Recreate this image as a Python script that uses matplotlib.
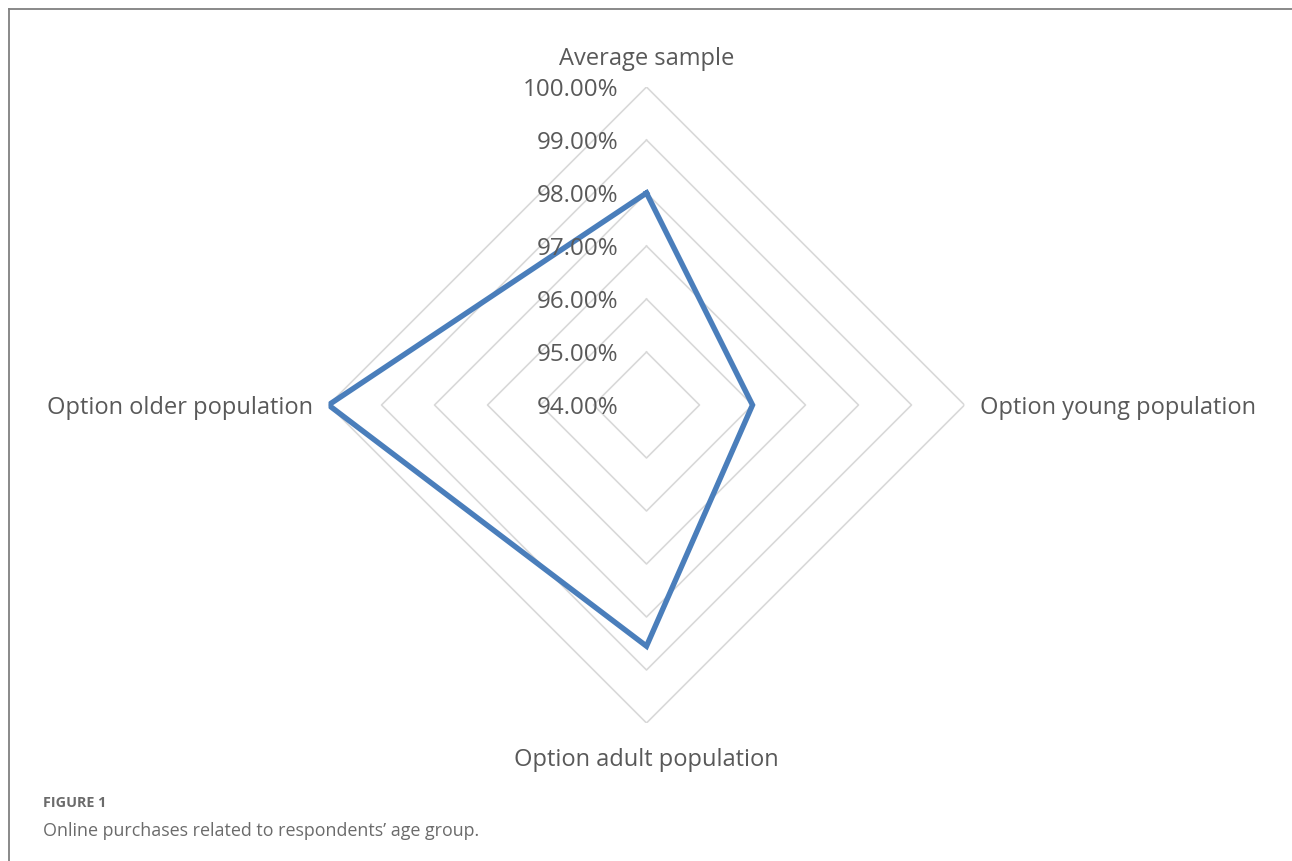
import numpy as np
import matplotlib
matplotlib.use('Agg')
import matplotlib.pyplot as plt
from matplotlib.lines import Line2D

# categories clockwise from the top
categories = ['Average sample', 'Option young population',
              'Option adult population', 'Option older population']
share = [98.0, 96.0, 98.55, 100.0]          # % of respondents buying online
ring_levels = [94, 95, 96, 97, 98, 99, 100]
ring_labels = ['94.00%', '95.00%', '96.00%', '97.00%', '98.00%', '99.00%', '100.00%']

W, H, DPI = 1292, 861, 100
cx, cy, R = 646.5, 405, 318   # chart centre and outer radius in pixels

plt.rcParams['font.family'] = ['Open Sans', 'DejaVu Sans']
text_col = '#595959'

fig = plt.figure(figsize=(W / DPI, H / DPI), dpi=DPI)
ax = fig.add_axes([(cx - R) / W, (H - cy - R) / H, 2 * R / W, 2 * R / H],
                  projection='polar')
ax.set_theta_offset(np.pi / 2)
ax.set_theta_direction(-1)
ax.set_ylim(94, 100)
ax.grid(False)
ax.set_xticks([])
ax.set_yticks([])
ax.spines['polar'].set_visible(False)
ax.patch.set_alpha(0)

theta = np.linspace(0, 2 * np.pi, len(categories), endpoint=False)
theta_closed = np.append(theta, theta[0])

# diamond gridlines
for lvl in ring_levels[1:]:
    ax.plot(theta_closed, [lvl] * len(theta_closed), color='#d9d9d9', lw=1.2, zorder=1)

# data polygon
vals = np.append(share, share[0])
ax.plot(theta_closed, vals, color='#4a7ebb', lw=3.9, solid_joinstyle='miter', zorder=3)

# ring value labels along the top axis
for lvl, lab in zip(ring_levels, ring_labels):
    ax.annotate(lab, xy=(0, lvl), xytext=(-20, -2.5), textcoords='offset points',
                ha='right', va='center', fontsize=17.4, color=text_col, zorder=4)

# category labels
offsets = [(0, 20.5), (11, -2.5), (0, -26.5), (-11, -2.5)]
aligns = [('center', 'center'), ('left', 'center'), ('center', 'center'), ('right', 'center')]
for t, name, off, (ha, va) in zip(theta, categories, offsets, aligns):
    ax.annotate(name, xy=(t, 100), xytext=off, textcoords='offset points',
                ha=ha, va=va, fontsize=17, color=text_col)

# outer frame (top and left edges)
fig.add_artist(Line2D([9 / W, 9 / W], [0, 1 - 8.5 / H], transform=fig.transFigure,
                      color='#808080', lw=1.3))
fig.add_artist(Line2D([9 / W, 1], [1 - 8.5 / H, 1 - 8.5 / H], transform=fig.transFigure,
                      color='#808080', lw=1.3))

fig.text(43 / W, 1 - 803 / H, 'FIGURE 1', fontsize=10.4, fontweight='bold',
         color='#6b6b6b', ha='left', va='center')
fig.text(43 / W, 1 - 831 / H, 'Online purchases related to respondents\u2019 age group.',
         fontsize=12.9, color='#6b6b6b', ha='left', va='center')

fig.savefig('out.png', dpi=DPI)
